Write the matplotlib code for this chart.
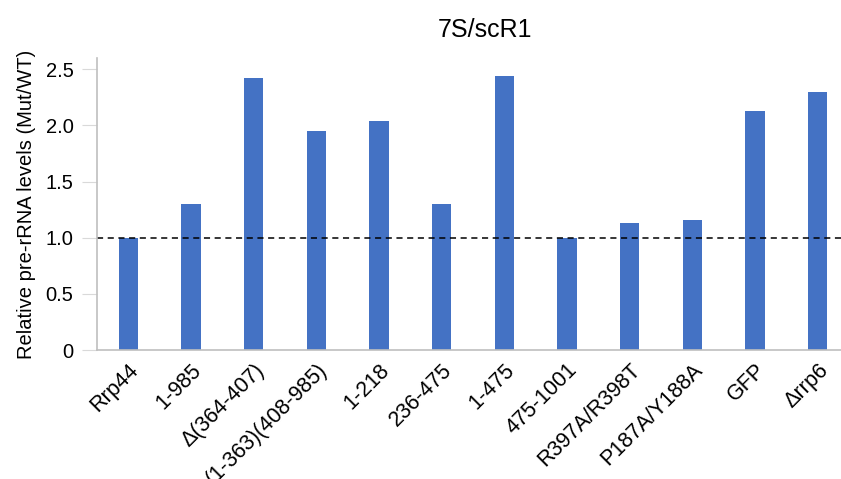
import matplotlib.pyplot as plt

# Categories and values
labels = ['Rrp44', '1-985', 'Δ(364-407)', '(1-363)(408-985)', '1-218',
          '236-475', '1-475', '475-1001', 'R397A/R398T', 'P187A/Y188A',
          'GFP', 'Δrrp6']
values = [1.00, 1.30, 2.42, 1.95, 2.04, 1.30, 2.44, 1.00, 1.13, 1.16,
          2.13, 2.30]
yticks = [0, 0.5, 1.0, 1.5, 2.0, 2.5]
yticklabels = ['0', '0.5', '1.0', '1.5', '2.0', '2.5']

plt.rcParams['font.family'] = ['Liberation Sans', 'DejaVu Sans']

fig = plt.figure(figsize=(8.41, 4.79), dpi=100)
# axes placed in figure fractions (right edge runs past the crop)
ax = fig.add_axes([97 / 841, 1 - 350 / 479, 752 / 841, 292 / 479])

x = range(len(labels))
ax.bar(x, values, width=0.31, color='#4472C4')
ax.axhline(1.0, color='black', linestyle='--', linewidth=1.1, dashes=(4, 3))

ax.set_xlim(-0.5, len(labels) - 0.5)
ax.set_ylim(0, 2.6)
ax.set_yticks(yticks)
ax.set_yticklabels(yticklabels, fontsize=14.5)
ax.set_xticks(list(x))
# the long label runs off the bottom edge, as in the source image
ax.set_xticklabels(labels, rotation=45, ha='right', rotation_mode='anchor',
                   fontsize=15.5)

for side in ['top', 'right']:
    ax.spines[side].set_visible(False)
for side in ['left', 'bottom']:
    ax.spines[side].set_color('#BFBFBF')
    ax.spines[side].set_linewidth(1.2)
ax.tick_params(axis='y', length=11, color='#D9D9D9', pad=6)
ax.tick_params(axis='x', length=0, pad=7)

ax.set_ylabel('Relative pre-rRNA levels (Mut/WT)', fontsize=14.5, labelpad=7)
fig.text(485 / 841, 1 - 30 / 479, '7S/scR1', ha='center', va='center',
         fontsize=18)

plt.savefig('out.png', dpi=100)
